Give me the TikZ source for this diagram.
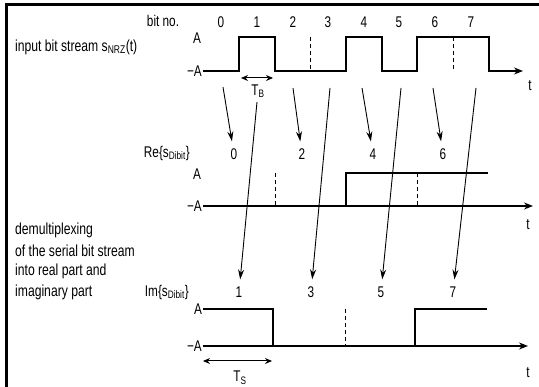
\documentclass[tikz,border=0pt]{standalone}
\usepackage{fontspec}
\setmainfont{Liberation Sans}[FakeStretch=0.76]
\usetikzlibrary{arrows.meta}
\begin{document}
\begin{tikzpicture}[x=1pt,y=-1pt,
  sig/.style={line width=1.4pt},
  tip/.style={-{Stealth[length=9pt,width=7pt]}},
  dsh/.style={line width=0.9pt,dash pattern=on 4pt off 3pt},
  conn/.style={line width=0.9pt,-{Stealth[length=10pt,width=6pt]},shorten >=6pt},
  dim/.style={line width=1pt,{Stealth[length=7pt,width=6pt]}-{Stealth[length=7pt,width=6pt]}},
  lbl/.style={font=\fontsize{15.5}{18}\selectfont, inner sep=1pt},
  txt/.style={font=\fontsize{16}{18}\selectfont, anchor=west, inner sep=0pt},
]
\useasboundingbox (0,0) rectangle (539,387);
\draw[line width=3pt] (6,387) -- (6,5) -- (539,5);

% ---------- input bit stream ----------
\node[txt] (inp) at (15,47) {input bit stream s\textsubscript{NRZ}(t)};
\node[lbl] (bitno) at (163,21) {bit no.};
\node[lbl] (b0) at (221,22) {0};
\node[lbl] (b1) at (257,22) {1};
\node[lbl] (b2) at (293,22) {2};
\node[lbl] (b3) at (328,22) {3};
\node[lbl] (b4) at (364,22) {4};
\node[lbl] (b5) at (399,22) {5};
\node[lbl] (b6) at (435,22) {6};
\node[lbl] (b7) at (471,22) {7};
\node[lbl] (tA) at (197,38) {A};
\node[lbl,anchor=east] (tmA) at (203,71) {−A};
\node[lbl] (tt) at (530,86) {t};
\draw[sig,tip] (203,71) -- (239,71) -- (239,37) -- (275,37) -- (275,71) -- (346,71) -- (346,37) -- (382,37) -- (382,71) -- (417,71) -- (417,37) -- (489,37) -- (489,71) -- (523,71);
\draw[dsh] (310,37) -- (310,71);
\draw[dsh] (453,37) -- (453,71);
\draw[dim] (241,78) -- (273,78);
\node[lbl] (TB) at (258,91) {T\textsubscript{B}};

% ---------- real part ----------
\node[lbl,anchor=east] (re) at (191,153) {Re\{s\textsubscript{Dibit}\}};
\node[lbl] (r0) at (234,154) {0};
\node[lbl] (r2) at (302,154) {2};
\node[lbl] (r4) at (373,154) {4};
\node[lbl] (r6) at (443,154) {6};
\node[lbl] (rA) at (197,174) {A};
\node[lbl,anchor=east] (rmA) at (203,206) {−A};
\node[lbl] (rt) at (528,225) {t};
\draw[sig,tip] (203,206) -- (533,206);
\draw[sig] (346,206) -- (346,173) -- (488,173);
\draw[dsh] (275,173) -- (275,206);
\draw[dsh] (417,173) -- (417,206);

% ---------- imaginary part ----------
\node[lbl,anchor=east] (im) at (190,292) {Im\{s\textsubscript{Dibit}\}};
\node[lbl] (i1) at (239,292) {1};
\node[lbl] (i3) at (311,292) {3};
\node[lbl] (i5) at (381,292) {5};
\node[lbl] (i7) at (453,292) {7};
\node[lbl] (iA) at (198,309) {A};
\node[lbl,anchor=east] (imA) at (203,346) {−A};
\node[lbl] (it) at (528,373) {t};
\draw[sig,tip] (203,346) -- (528,346);
\draw[sig] (203,309) -- (273,309) -- (273,346);
\draw[sig] (415,346) -- (415,309) -- (487,309);
\draw[dsh] (345,309) -- (345,346);
\draw[dim] (203,361) -- (272,361);
\node[lbl] (TS) at (240,378) {T\textsubscript{S}};

% ---------- left text ----------
\node[txt] (dm1) at (15,230) {demultiplexing};
\node[txt] (dm2) at (15,251) {of the serial bit stream};
\node[txt] (dm3) at (15,271) {into real part and};
\node[txt] (dm4) at (15,292) {imaginary part};

% ---------- connectors ----------
\coordinate (c0) at (223,87);
\coordinate (c1) at (257,102);
\coordinate (c2) at (293,88);
\coordinate (c3) at (330,88);
\coordinate (c4) at (362,88);
\coordinate (c5) at (401,88);
\coordinate (c6) at (433,88);
\coordinate (c7) at (476,88);
\draw[conn] (c0) -- (r0);
\draw[conn] (c2) -- (r2);
\draw[conn] (c4) -- (r4);
\draw[conn] (c6) -- (r6);
\draw[conn] (c1) -- (i1);
\draw[conn] (c3) -- (i3);
\draw[conn] (c5) -- (i5);
\draw[conn] (c7) -- (i7);
\end{tikzpicture}
\end{document}
